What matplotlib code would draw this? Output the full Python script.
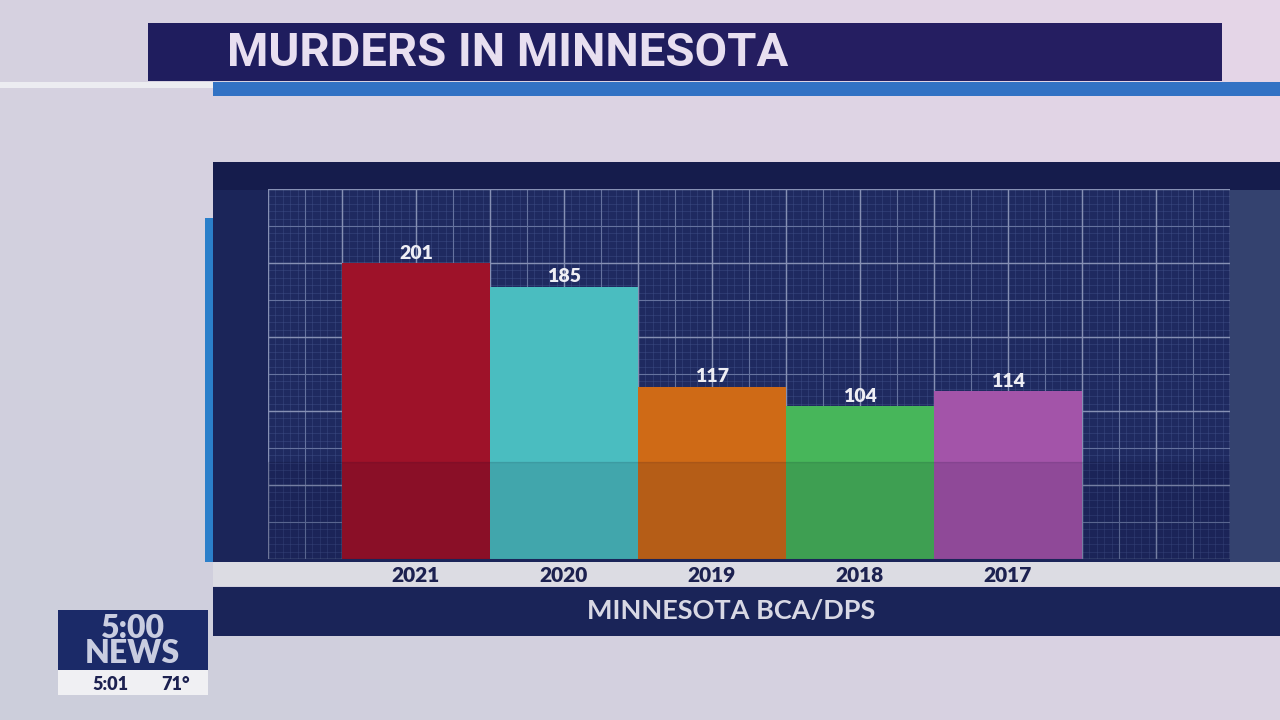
'''
Murders in Minnesota - TV news style bar chart
'''
import numpy as np
import matplotlib
matplotlib.use('Agg')
import matplotlib.pyplot as plt
from matplotlib.patches import Rectangle

years = ['2021', '2020', '2019', '2018', '2017']
murders = [201, 185, 117, 104, 114]
bar_colors = ['#9e1229', '#4abdc0', '#cf6a16', '#47b65a', '#a354a9']

title = 'MURDERS IN MINNESOTA'
source = 'MINNESOTA BCA/DPS'

W, H = 1280, 720


def px(x, y, w, h):
    # pixel box (top-left origin) -> figure fraction
    return (x / W, 1 - (y + h) / H, w / W, h / H)


def box(fig, x, y, w, h, color, alpha=1.0, z=-5):
    l, b, ww, hh = px(x, y, w, h)
    fig.patches.append(Rectangle((l, b), ww, hh, transform=fig.transFigure,
                                 facecolor=color, edgecolor='none',
                                 alpha=alpha, zorder=z))


def fx(x):
    return x / W


def fy(y):
    return 1 - y / H


def main():
    fig = plt.figure(figsize=(12.8, 7.2), dpi=100)

    # soft studio background
    bg = fig.add_axes([0, 0, 1, 1], zorder=-10)
    gx = np.linspace(0, 1, 64)
    gy = np.linspace(0, 1, 36)
    X, Y = np.meshgrid(gx, gy)
    c0 = np.array([0.80, 0.81, 0.86])
    c1 = np.array([0.90, 0.84, 0.91])
    t = np.clip(0.6 * X + 0.4 * (1 - Y), 0, 1)[..., None]
    bg.imshow(c0 * (1 - t) + c1 * t, aspect='auto', extent=[0, 1, 0, 1])
    bg.axis('off')

    # title bar
    box(fig, 148, 23, 1074, 58, '#1f1d5e')
    box(fig, 700, 23, 522, 58, '#2a1f64', alpha=0.6)
    box(fig, 0, 82, 213, 6, '#ececf1')
    box(fig, 213, 82, 1067, 14, '#3272c4')
    fig.text(fx(227), fy(53), title, fontsize=34, fontweight='bold',
             family='Roboto', color='#e8dff0', va='center', ha='left')

    # chart panel
    box(fig, 213, 162, 1067, 400, '#1b2559')
    box(fig, 213, 162, 1067, 28, '#151c4c')
    box(fig, 1230, 190, 50, 372, '#34426f')
    box(fig, 205, 218, 8, 344, '#2b7fca')
    box(fig, 213, 562, 1067, 24, '#dcdce3')
    box(fig, 213, 587, 1067, 49, '#1a2458')
    fig.text(fx(731), fy(611), source, fontsize=19.5, fontweight='bold',
             family='Lato', color='#d8d8e4', va='center', ha='center')

    # plotting area with grid
    ax = fig.add_axes(px(268, 189, 962, 370))
    ymax = 251.2
    ax.set_xlim(-1, 5.5)
    ax.set_ylim(0, ymax)
    ax.set_facecolor('#1f2a60')
    for v in np.arange(-1, 5.5001, 0.05):
        ax.axvline(v, color='#42528a', lw=0.5, alpha=0.6, zorder=1)
    for v in np.arange(0, ymax + 0.01, ymax / 50):
        ax.axhline(v, color='#42528a', lw=0.5, alpha=0.6, zorder=1)
    for v in np.arange(-1, 5.5001, 0.25):
        ax.axvline(v, color='#66739f', lw=0.8, zorder=1)
    for v in np.arange(0, ymax + 0.01, ymax / 10):
        ax.axhline(v, color='#66739f', lw=0.8, zorder=1)
    for v in np.arange(-1, 5.5001, 0.5):
        ax.axvline(v, color='#8690b4', lw=1.0, zorder=1)
    for v in np.arange(0, ymax + 0.01, ymax / 5):
        ax.axhline(v, color='#8690b4', lw=1.0, zorder=1)

    pos = np.arange(len(years))
    ax.bar(pos, murders, width=1.0, color=bar_colors, edgecolor='none', zorder=3)
    for p, v in zip(pos, murders):
        ax.text(p, v + 0.8, str(v), ha='center', va='bottom', fontsize=14,
                fontweight='heavy', family='Lato', color='#eeeef4', zorder=5)
    # darker lower band from the background plate
    ax.axhspan(0, 66, color='#000020', alpha=0.12, zorder=4)

    ax.set_xticks([])
    ax.set_yticks([])
    for s in ax.spines.values():
        s.set_visible(False)

    # year labels in the light strip
    for p, yr in zip(pos, years):
        xp = 342 + 148 * p + 74
        fig.text(fx(xp), fy(575), yr, fontsize=15, fontweight='heavy',
                 family='Lato', color='#1c2150', ha='center', va='center')

    # station bug
    box(fig, 58, 610, 150, 60, '#1b2a68')
    box(fig, 58, 670, 150, 25, '#f0f0f3')
    fig.text(fx(132), fy(641), '5:00\nNEWS', fontsize=23, fontweight='heavy',
             family='Lato', color='#c9cde0', ha='center', va='center',
             linespacing=0.85)
    fig.text(fx(110), fy(684), '5:01', fontsize=13, fontweight='heavy',
             family='Lato', color='#1c2150', ha='center', va='center')
    fig.text(fx(176), fy(684), '71°', fontsize=13, fontweight='heavy',
             family='Lato', color='#1c2150', ha='center', va='center')

    fig.savefig('out.png', dpi=100)


if __name__ == "__main__":
    main()
